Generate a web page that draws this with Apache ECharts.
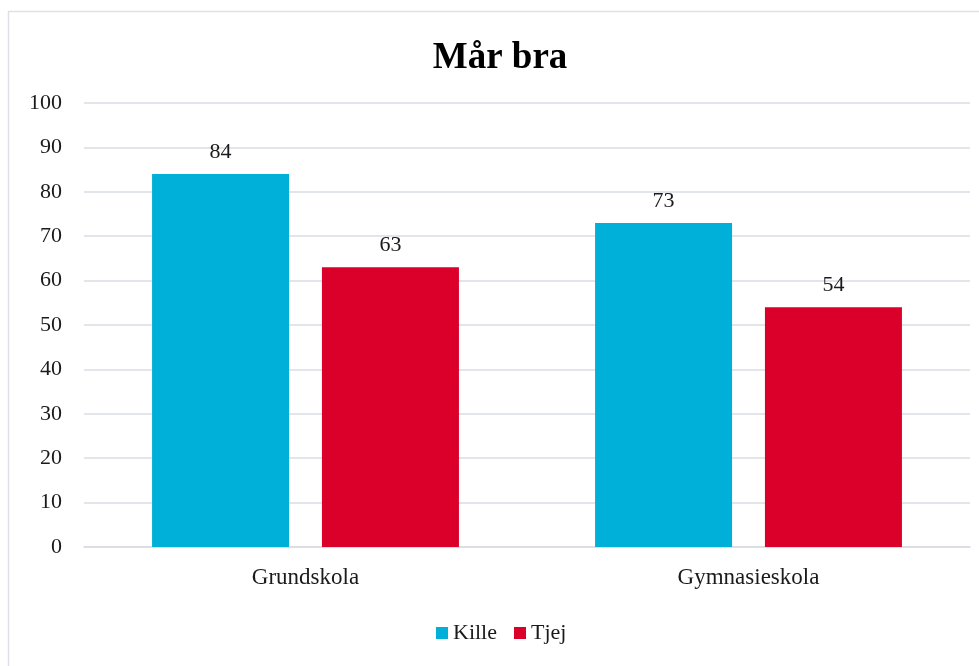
<!DOCTYPE html>
<html>
<head>
<meta charset="utf-8">
<script src="https://cdn.jsdelivr.net/npm/echarts@6/dist/echarts.min.js"></script>
<style>
  html, body { margin: 0; padding: 0; background: #fff; }
  #chart { width: 979px; height: 666px; }
</style>
</head>
<body>
<div id="chart"></div>
<script>
// chart data
var categories = ["Grundskola", "Gymnasieskola"];
var kille = [84, 73];
var tjej = [63, 54];
var seriesNames = ["Kille", "Tjej"];

var FONT = '"Liberation Serif", "Times New Roman", serif';
var GRID_COLOR = '#d9dde3';

var chart = echarts.init(document.getElementById('chart'), null, {renderer: 'canvas'});

function bar_series(name, data, color)
{
    return {
        name: name,
        type: 'bar',
        data: data,
        barWidth: 137,
        barGap: '24%',
        itemStyle: {color: color},
        label: {
            show: true,
            position: 'top',
            distance: 11,
            color: '#1a1a1a',
            fontFamily: FONT,
            fontSize: 22
        }
    };
}

var option = {
    backgroundColor: '#fff',
    animation: false,
    title: {
        text: 'Mår bra',
        left: 495,
        top: 35,
        textAlign: 'center',
        textStyle: {
            fontFamily: FONT,
            fontWeight: 'bold',
            fontSize: 37,
            color: '#000'
        }
    },
    graphic: [{
        type: 'rect',
        shape: {x: 8.5, y: 11.5, width: 1000, height: 700},
        style: {fill: 'none', stroke: '#dde1e6', lineWidth: 1.5},
        silent: true
    }],
    grid: {left: 84, right: 9, top: 103, bottom: 119},
    legend: {
        data: seriesNames,
        left: 431,
        top: 617,
        icon: 'rect',
        itemWidth: 12,
        itemHeight: 12,
        itemGap: 17,
        textStyle: {fontFamily: FONT, fontSize: 22, color: '#1a1a1a'}
    },
    xAxis: {
        type: 'category',
        data: categories,
        axisLine: {lineStyle: {color: GRID_COLOR, width: 1.5}},
        axisTick: {show: false},
        axisLabel: {fontFamily: FONT, fontSize: 23, color: '#1a1a1a', margin: 19}
    },
    yAxis: {
        type: 'value',
        min: 0,
        max: 100,
        interval: 10,
        axisLine: {show: false},
        axisTick: {show: false},
        splitLine: {lineStyle: {color: GRID_COLOR, width: 1.5}},
        axisLabel: {fontFamily: FONT, fontSize: 22, color: '#1a1a1a', margin: 22}
    },
    series: [
        bar_series(seriesNames[0], kille, '#00b0d8'),
        bar_series(seriesNames[1], tjej, '#da0029')
    ]
};

chart.setOption(option);
</script>
</body>
</html>
